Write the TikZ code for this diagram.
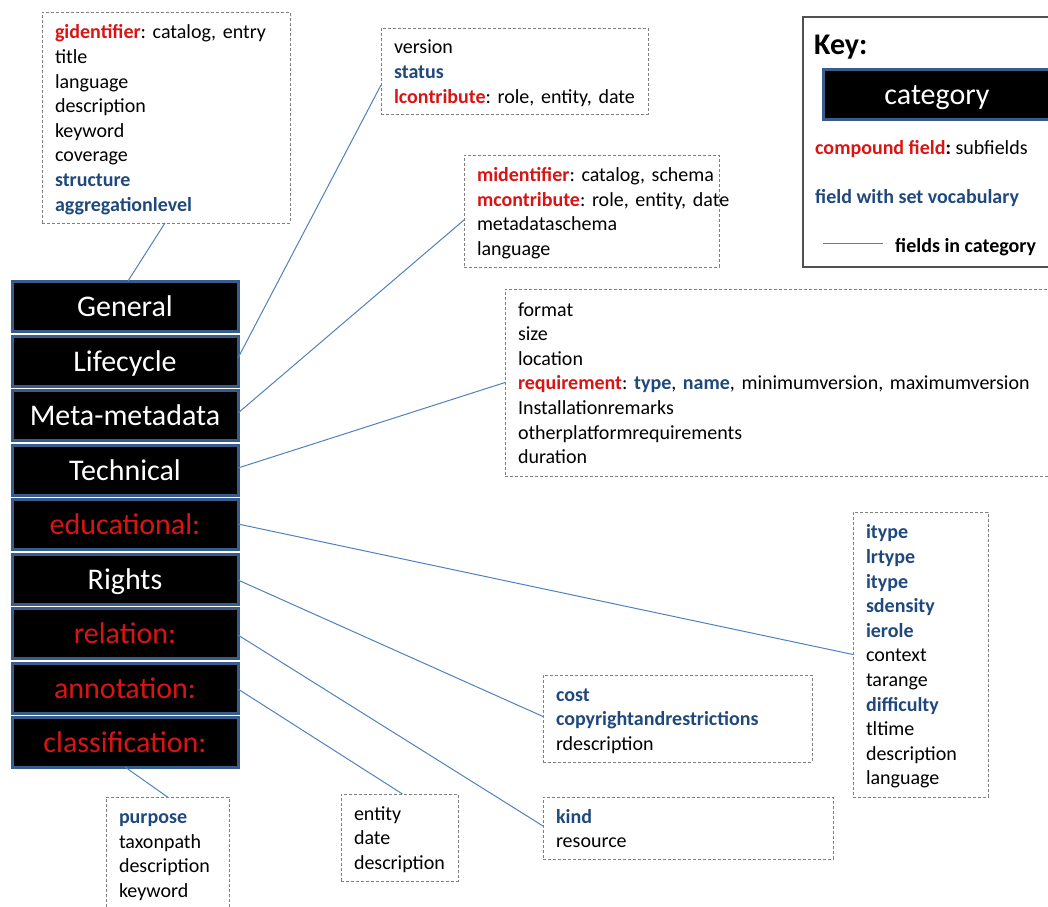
\documentclass[tikz,border=0pt]{standalone}
\usepackage{fontspec}
\setmainfont{Carlito}
\usetikzlibrary{calc}
\definecolor{cred}{RGB}{218,20,20}
\definecolor{cblue}{RGB}{31,73,125}
\definecolor{cline}{RGB}{79,129,189}
\definecolor{cborder}{RGB}{56,93,138}
\definecolor{cdash}{RGB}{128,128,128}
\definecolor{ckey}{RGB}{80,80,80}
\newcommand\redf[1]{\textcolor{cred}{\textbf{#1}}}
\newcommand\bluef[1]{\textcolor{cblue}{\textbf{#1}}}
\newcommand\tstr{\rule{0pt}{19.7pt}}
\newcommand\bstr{\rule[-4.9pt]{0pt}{4.9pt}}
\frenchspacing
\begin{document}
\begin{tikzpicture}[x=1pt,y=-1pt,
  fbox/.style={draw=cdash, dash pattern=on 3pt off 2pt, line width=1pt, anchor=north west,
    inner xsep=13pt, inner ysep=0pt, align=left, outer sep=0pt,
    font=\fontsize{20}{24.6}\selectfont\frenchspacing},
  cat/.style={fill=black, draw=cborder, line width=3pt, anchor=north west,
    minimum width=226pt, minimum height=50pt, inner sep=0pt, outer sep=0pt,
    text height=25pt, text depth=4pt,
    font=\fontsize{30}{36}\selectfont, text=white},
  conn/.style={draw=cline, line width=1pt},
  keytext/.style={anchor=base west, inner sep=0pt, font=\fontsize{20}{24.6}\selectfont\frenchspacing}]
\useasboundingbox (0,0) rectangle (1048,906);
\clip (0,0) rectangle (1048,906);

% category stack
\node[cat] (general) at (12,281) {General};
\node[cat] (life) at (12,336) {Lifecycle};
\node[cat] (metam) at (12,390) {Meta-metadata};
\node[cat] (tech) at (12,445) {Technical};
\node[cat, text=cred] (edu) at (12,499) {educational:};
\node[cat] (rights) at (12,554) {Rights};
\node[cat, text=cred] (rel) at (12,608) {relation:};
\node[cat, text=cred] (annot) at (12,663) {annotation:};
\node[cat, text=cred] (class) at (12,717) {classification:};

% field boxes
\node[fbox, text width=222pt, minimum height=211pt] (fgen) at (42,12)
 {\tstr\mbox{\redf{gidentifier}: catalog, entry}\\ title\\ language\\ description\\ keyword\\ coverage\\ \bluef{structure}\\ \bluef{aggregationlevel}\bstr};
\node[fbox, text width=241pt, minimum height=86pt] (flife) at (381,28)
 {\tstr version\\ \bluef{status}\\ \mbox{\redf{lcontribute}: role, entity, date}\bstr};
\node[fbox, text width=229pt, minimum height=112pt] (fmeta) at (464,155)
 {\tstr\mbox{\redf{midentifier}: catalog, schema}\\ \mbox{\redf{mcontribute}: role, entity, date}\\ metadataschema\\ language\bstr};
\node[fbox, text width=529pt, minimum height=187pt] (ftech) at (505,289)
 {\tstr format\\ size\\ location\\ \mbox{\redf{requirement}: \bluef{type}, \bluef{name}, minimumversion, maximumversion}\\ Installationremarks\\ otherplatformrequirements\\ duration\bstr};
\node[fbox, text width=109pt, minimum height=285pt] (fedu) at (853,512)
 {\tstr\bluef{itype}\\ \bluef{lrtype}\\ \bluef{itype}\\ \bluef{sdensity}\\ \bluef{ierole}\\ context\\ tarange\\ \bluef{difficulty}\\ tltime\\ description\\ language\bstr};
\node[fbox, text width=243pt, minimum height=87pt] (frights) at (543,675)
 {\tstr\bluef{cost}\\ \mbox{\bluef{copyrightandrestrictions}}\\ rdescription\bstr};
\node[fbox, text width=264pt, minimum height=62pt] (frel) at (543,797)
 {\tstr\bluef{kind}\\ resource\bstr};
\node[fbox, text width=91pt, minimum height=87pt] (fannot) at (341,794)
 {\tstr entity\\ date\\ \mbox{description}\bstr};
\node[fbox, text width=97pt, minimum height=112pt] (fclass) at (106,797)
 {\tstr\bluef{purpose}\\ taxonpath\\ \mbox{description}\\ keyword\bstr};

% connectors
\draw[conn] ([xshift=3pt]general.north) -- ([xshift=123pt]fgen.south west);
\draw[conn] ([yshift=3pt]life.east) -- ([yshift=-14pt]flife.west);
\draw[conn] ([yshift=2pt]metam.east) -- ([yshift=-9pt]fmeta.west);
\draw[conn] ([yshift=2pt]tech.east) -- (ftech.west);
\draw[conn] (edu.east) -- (fedu.west);
\draw[conn] ([yshift=-1pt]rights.east) -- ([yshift=2pt]frights.west);
\draw[conn] ([yshift=-2pt]rel.east) -- ([yshift=2pt]frel.west);
\draw[conn] ([yshift=-1pt]annot.east) -- ([xshift=3pt]fannot.north);
\draw[conn] (class.south) -- (fclass.north);

% key
\node[draw=ckey, line width=1.5pt, anchor=north west, minimum width=260pt, minimum height=250pt,
  inner sep=0pt, outer sep=0pt] (keybox) at (803,17) {};
\node[anchor=base west, inner sep=0pt, font=\fontsize{30}{36}\selectfont\bfseries] (keytitle) at (814,54) {Key:};
\node[cat, minimum width=228pt] (keycat) at (823,69) {category};
\node[keytext] (keycomp) at (815,154) {\redf{compound field}\textbf{:} subfields};
\node[keytext] (keyvoc) at (815,203) {\bluef{field with set vocabulary}};
\node[keytext] (keyfld) at (895,252) {\textbf{fields in category}};
\coordinate (klA) at (823,243);
\coordinate (klB) at (883,243);
\draw[conn] (klA) -- (klB);
\end{tikzpicture}
\end{document}
